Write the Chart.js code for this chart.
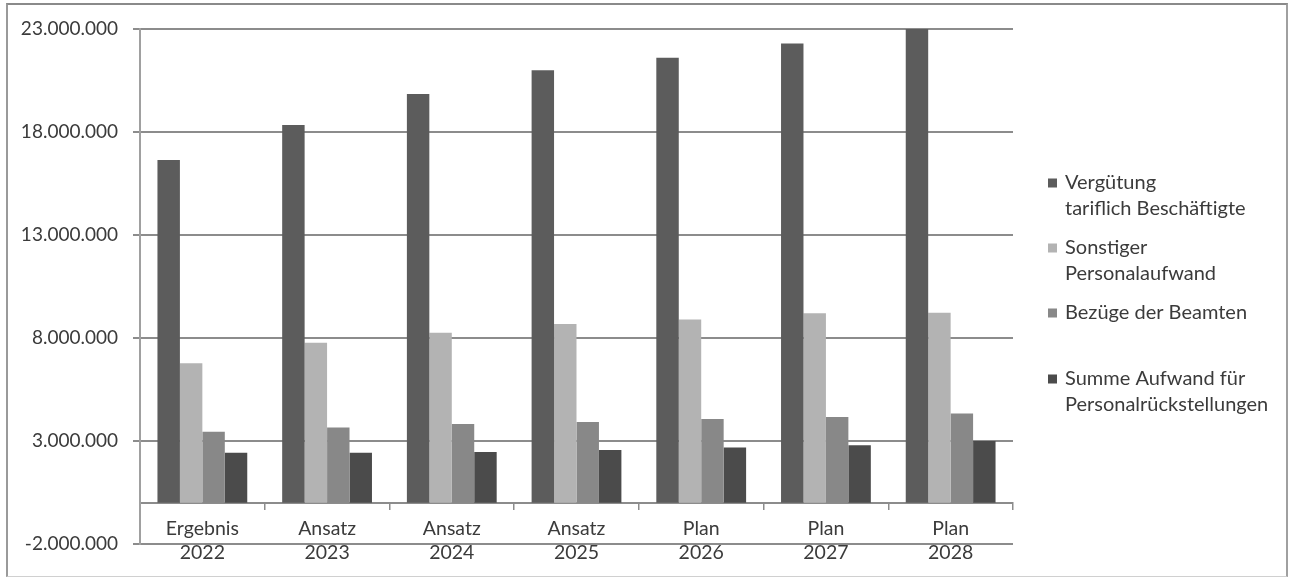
<!DOCTYPE html>
<html>
<head>
<meta charset="utf-8">
<title>Personalaufwand 2022–2028</title>
<script src="https://cdn.jsdelivr.net/npm/chart.js@4.4.1/dist/chart.umd.min.js"></script>
<style>
  html, body { margin: 0; padding: 0; background: #fff; }
  #wrap { position: relative; width: 1292px; height: 581px; }
  #frame {
    position: absolute; left: 6px; top: 3px; width: 1282px; height: 574px;
    border-top: 2px solid #8a8a8a; border-left: 2px solid #9a9a9a;
    border-right: 2px solid #a0a0a0; border-bottom: 1px solid #d0d0d0;
    box-sizing: border-box; pointer-events: none;
  }
</style>
</head>
<body>
<div id="wrap">
  <canvas id="c" width="1292" height="581"></canvas>
  <div id="frame"></div>
</div>
<script>
// Kategorien (Zeitraum) und Werte in Euro
const categories = [
  ['Ergebnis', '2022'],
  ['Ansatz', '2023'],
  ['Ansatz', '2024'],
  ['Ansatz', '2025'],
  ['Plan', '2026'],
  ['Plan', '2027'],
  ['Plan', '2028']
];

const verguetungTariflich = [16640000, 18340000, 19840000, 21000000, 21600000, 22300000, 23000000];
const sonstigerPersonalaufwand = [6780000, 7770000, 8250000, 8680000, 8900000, 9200000, 9230000];
const bezuegeBeamte = [3450000, 3660000, 3830000, 3920000, 4070000, 4170000, 4330000];
const personalrueckstellungen = [2430000, 2430000, 2470000, 2560000, 2690000, 2790000, 3000000];

const seriesLabels = [
  ['Vergütung', 'tariflich Beschäftigte'],
  ['Sonstiger', 'Personalaufwand'],
  ['Bezüge der Beamten'],
  ['Summe Aufwand für', 'Personalrückstellungen']
];

// Achsenbereich
const yMin = -2000000;
const yMax = 23000000;
const yStep = 5000000;

const colors = ['#5c5c5c', '#b3b3b3', '#888888', '#4b4b4b'];
const FONT = 'Lato, "Open Sans", sans-serif';
const TEXT = '#3b3b3b';

function formatDe(v) {
  const neg = v < 0;
  const s = Math.abs(Math.round(v)).toString().replace(/\B(?=(\d{3})+(?!\d))/g, '.');
  return (neg ? '-' : '') + s;
}

// Legende rechts neben der Zeichenfläche, mehrzeilige Einträge
const sideLegend = {
  id: 'sideLegend',
  afterDraw(chart, args, opts) {
    const ctx = chart.ctx;
    ctx.save();
    ctx.font = opts.fontSize + 'px ' + FONT;
    ctx.textBaseline = 'middle';
    ctx.textAlign = 'left';
    chart.data.datasets.forEach((ds, i) => {
      const y0 = opts.rows[i];
      ctx.fillStyle = ds.backgroundColor;
      ctx.fillRect(opts.x, y0 - opts.box / 2, opts.box, opts.box);
      ctx.fillStyle = TEXT;
      const lines = Array.isArray(ds.label) ? ds.label : [ds.label];
      lines.forEach((line, j) => {
        ctx.fillText(line, opts.x + opts.box + 8, y0 + j * opts.lineGap);
      });
    });
    ctx.restore();
  }
};

const datasets = [verguetungTariflich, sonstigerPersonalaufwand, bezuegeBeamte, personalrueckstellungen]
  .map((values, i) => ({
    label: seriesLabels[i],
    data: values,
    backgroundColor: colors[i],
    borderWidth: 0,
    categoryPercentage: 0.72,
    barPercentage: 1.0
  }));

new Chart(document.getElementById('c'), {
  type: 'bar',
  data: { labels: categories, datasets },
  plugins: [sideLegend],
  options: {
    responsive: false,
    animation: false,
    layout: { padding: { left: 0, right: 279, top: 29, bottom: 37 } },
    plugins: {
      legend: { display: false },
      tooltip: { enabled: false },
      sideLegend: { x: 1048, box: 9, fontSize: 20, lineGap: 26, rows: [183, 248, 313, 379] }
    },
    scales: {
      x: {
        position: { y: 0 },
        grid: {
          display: true,
          drawOnChartArea: false,
          drawTicks: true,
          tickLength: 6,
          color: '#8c8c8c',
          lineWidth: 1.5
        },
        border: { display: true, color: '#8c8c8c', width: 2 },
        ticks: {
          color: TEXT,
          font: { family: FONT, size: 19.5, lineHeight: 1.23 },
          padding: 8,
          maxRotation: 0,
          autoSkip: false
        }
      },
      y: {
        min: yMin,
        max: yMax,
        afterFit(scale) { scale.width = 140; },
        afterBuildTicks(scale) {
          const t = [];
          for (let v = yMin; v <= yMax; v += yStep) t.push({ value: v });
          scale.ticks = t;
        },
        grid: {
          color: '#8c8c8c',
          lineWidth: 2,
          drawTicks: true,
          tickLength: 7
        },
        border: { display: true, color: '#a0a0a0', width: 2 },
        ticks: {
          color: TEXT,
          font: { family: FONT, size: 19 },
          padding: 15,
          callback: (v) => formatDe(v)
        }
      }
    }
  }
});
</script>
</body>
</html>
